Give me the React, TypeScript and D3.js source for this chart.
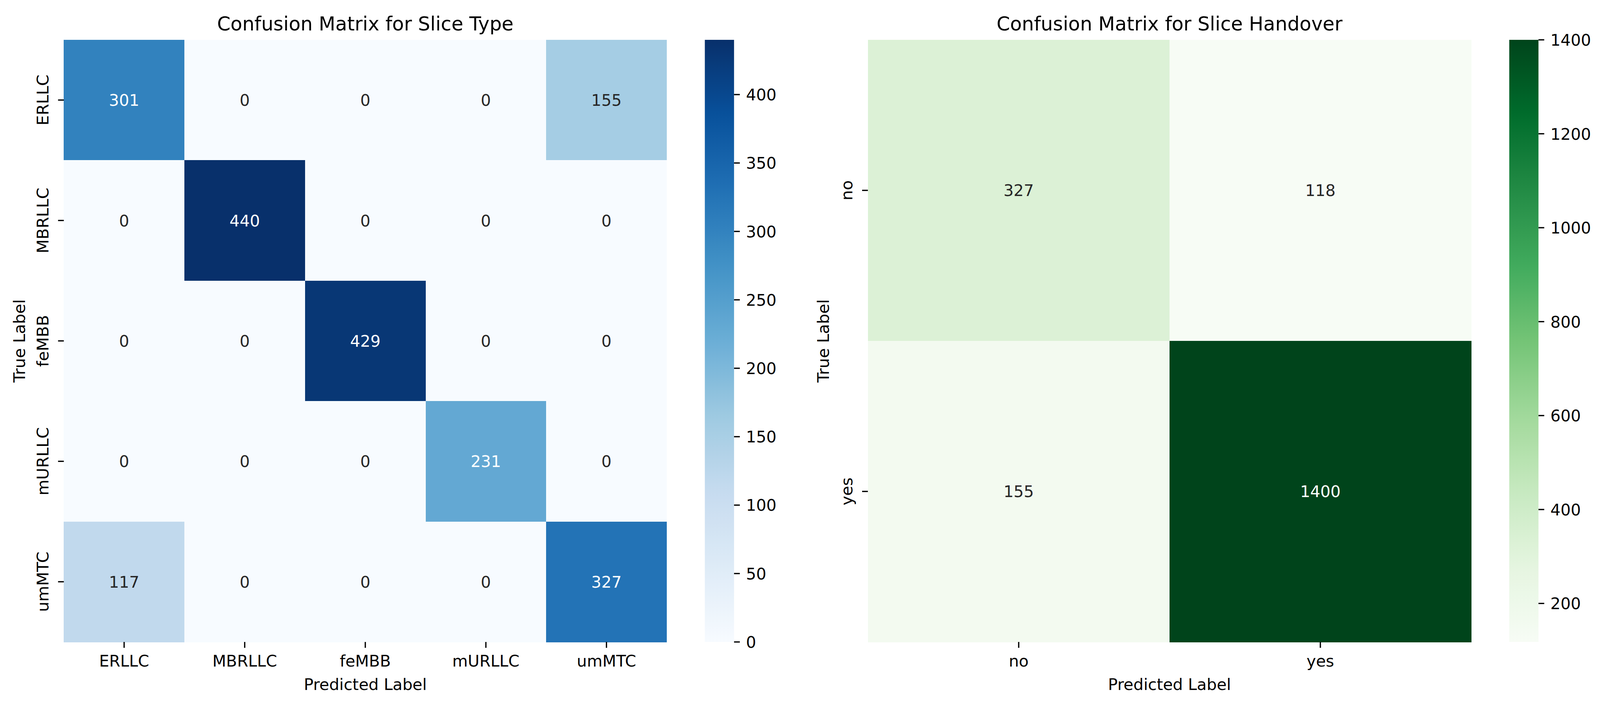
import React from "react";
import * as d3 from "d3";

// slice type confusion matrix
const sliceLabels = ["ERLLC", "MBRLLC", "feMBB", "mURLLC", "umMTC"];
const sliceMatrix = [
  [301, 0, 0, 0, 155],
  [0, 440, 0, 0, 0],
  [0, 0, 429, 0, 0],
  [0, 0, 0, 231, 0],
  [117, 0, 0, 0, 327],
];
const sliceTicks = [0, 50, 100, 150, 200, 250, 300, 350, 400];

// handover confusion matrix
const handoverLabels = ["no", "yes"];
const handoverMatrix = [
  [327, 118],
  [155, 1400],
];
const handoverTicks = [200, 400, 600, 800, 1000, 1200, 1400];

// matplotlib colormaps (colorbrewer anchors, linear segments)
const BLUES = ["#f7fbff", "#deebf7", "#c6dbef", "#9ecae1", "#6baed6", "#4292c6", "#2171b5", "#08519c", "#08306b"];
const GREENS = ["#f7fcf5", "#e5f5e0", "#c7e9c0", "#a1d99b", "#74c476", "#41ab5d", "#238b45", "#006d2c", "#00441b"];

const W = 4161;
const H = 1808;
const FONT = "DejaVu Sans";
const FS = 41.5;
const TITLE_FS = 50;

const luminance = (c: string) => {
  const rgb = d3.rgb(c);
  const lin = (v: number) => {
    const s = v / 255;
    return s <= 0.03928 ? s / 12.92 : Math.pow((s + 0.055) / 1.055, 2.4);
  };
  return 0.2126 * lin(rgb.r) + 0.7152 * lin(rgb.g) + 0.0722 * lin(rgb.b);
};

interface HeatmapProps {
  id: string;
  left: number;
  top: number;
  width: number;
  height: number;
  title: string;
  labels: string[];
  matrix: number[][];
  palette: string[];
  ticks: number[];
}

const Heatmap: React.FC<HeatmapProps> = ({ id, left, top, width, height, title, labels, matrix, palette, ticks }) => {
  const flat = matrix.flat();
  const vmin = d3.min(flat)!;
  const vmax = d3.max(flat)!;
  const x = d3.scaleBand<string>().domain(labels).range([left, left + width]);
  const y = d3.scaleBand<string>().domain(labels).range([top, top + height]);
  const color = d3
    .scaleLinear<string>()
    .domain(palette.map((_, i) => vmin + (i * (vmax - vmin)) / (palette.length - 1)))
    .range(palette)
    .interpolate(d3.interpolateRgb)
    .clamp(true);

  const cbLeft = left + width + 99;
  const cbWidth = 76;
  const cy = d3.scaleLinear().domain([vmin, vmax]).range([top + height, top]);
  const stops = d3.range(0, 1.0001, 0.02);

  const bottom = top + height;
  const midX = left + width / 2;
  const midY = top + height / 2;

  return (
    <g fontFamily={FONT}>
      <defs>
        <linearGradient id={id} x1="0" y1="1" x2="0" y2="0">
          {stops.map((t) => (
            <stop key={t} offset={t} stopColor={color(vmin + t * (vmax - vmin))} />
          ))}
        </linearGradient>
      </defs>
      <text x={midX} y={78} textAnchor="middle" fontSize={TITLE_FS} fill="#000">
        {title}
      </text>
      {matrix.map((row, i) =>
        row.map((v, j) => (
          <rect
            key={`c${i}-${j}`}
            x={x(labels[j])!}
            y={y(labels[i])!}
            width={x.bandwidth() + 0.5}
            height={y.bandwidth() + 0.5}
            fill={color(v)}
            shapeRendering="crispEdges"
          />
        ))
      )}
      {matrix.map((row, i) =>
        row.map((v, j) => (
          <text
            key={`t${i}-${j}`}
            x={x(labels[j])! + x.bandwidth() / 2}
            y={y(labels[i])! + y.bandwidth() / 2 + FS * 0.36}
            textAnchor="middle"
            fontSize={FS}
            fill={luminance(color(v)) > 0.408 ? "#262626" : "#ffffff"}
          >
            {v}
          </text>
        ))
      )}
      {/* x axis */}
      {labels.map((l) => {
        const cx = x(l)! + x.bandwidth() / 2;
        return (
          <g key={`x${l}`}>
            <line x1={cx} x2={cx} y1={bottom} y2={bottom + 15} stroke="#000" strokeWidth={3.3} />
            <text x={cx} y={bottom + 63} textAnchor="middle" fontSize={FS} fill="#000">
              {l}
            </text>
          </g>
        );
      })}
      <text x={midX} y={1767} textAnchor="middle" fontSize={FS} fill="#000">
        Predicted Label
      </text>
      {/* y axis */}
      {labels.map((l) => {
        const c = y(l)! + y.bandwidth() / 2;
        return (
          <g key={`y${l}`}>
            <line x1={left - 15} x2={left} y1={c} y2={c} stroke="#000" strokeWidth={3.3} />
            <text
              transform={`translate(${left - 40},${c}) rotate(-90)`}
              textAnchor="middle"
              fontSize={FS}
              fill="#000"
            >
              {l}
            </text>
          </g>
        );
      })}
      <text
        transform={`translate(${left - 101},${midY}) rotate(-90)`}
        textAnchor="middle"
        fontSize={FS}
        fill="#000"
      >
        True Label
      </text>
      {/* colorbar */}
      <rect x={cbLeft} y={top} width={cbWidth} height={height} fill={`url(#${id})`} />
      {ticks.map((t) => (
        <g key={`cb${t}`}>
          <line x1={cbLeft + cbWidth} x2={cbLeft + cbWidth + 15} y1={cy(t)} y2={cy(t)} stroke="#000" strokeWidth={3.3} />
          <text x={cbLeft + cbWidth + 31} y={cy(t) + FS * 0.36} fontSize={FS} fill="#000">
            {t}
          </text>
        </g>
      ))}
    </g>
  );
};

export default function App() {
  return (
    <svg
      viewBox={`0 0 ${W} ${H}`}
      preserveAspectRatio="none"
      style={{ position: "fixed", left: 0, top: 0, width: "100%", height: "100%", background: "#fff" }}
    >
      <rect width={W} height={H} fill="#fff" />
      <Heatmap
        id="gradBlues"
        left={166}
        top={102}
        width={1568}
        height={1542}
        title="Confusion Matrix for Slice Type"
        labels={sliceLabels}
        matrix={sliceMatrix}
        palette={BLUES}
        ticks={sliceTicks}
      />
      <Heatmap
        id="gradGreens"
        left={2257}
        top={102}
        width={1569}
        height={1542}
        title="Confusion Matrix for Slice Handover"
        labels={handoverLabels}
        matrix={handoverMatrix}
        palette={GREENS}
        ticks={handoverTicks}
      />
    </svg>
  );
}
